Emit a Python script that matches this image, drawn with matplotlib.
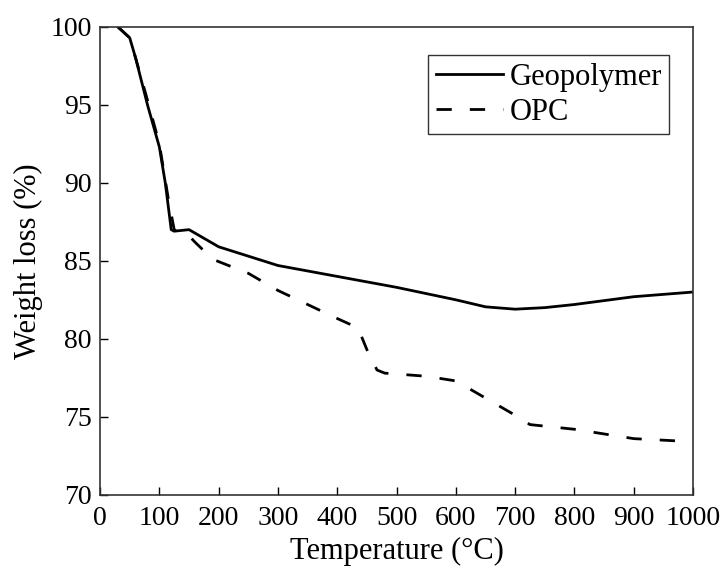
import matplotlib
matplotlib.use("Agg")
import matplotlib.pyplot as plt

plt.rcParams['font.family'] = ['Liberation Serif', 'DejaVu Serif']

geo_T = [30, 50, 60, 80, 100, 110, 120, 125, 150, 200, 300, 400, 500, 600, 650, 700, 750, 800, 900, 1000]
geo_W = [100, 99.3, 98.0, 95.0, 92.3, 90.0, 87.0, 86.9, 87.0, 85.9, 84.7, 84.0, 83.3, 82.5, 82.05, 81.9, 82.0, 82.2, 82.7, 83.0]

opc_T = [30, 50, 60, 80, 100, 115, 125, 140, 150, 160, 190, 250, 300, 350, 400, 435, 450, 467, 480, 550, 600, 650, 700, 725, 800, 900, 1000]
opc_W = [100, 99.3, 98.0, 95.3, 92.5, 89.0, 87.0, 86.7, 86.6, 86.2, 85.1, 84.2, 83.1, 82.2, 81.3, 80.7, 79.3, 78.0, 77.8, 77.6, 77.3, 76.2, 75.1, 74.5, 74.2, 73.6, 73.4]

x_ticks = list(range(0, 1001, 100))
y_ticks = list(range(70, 101, 5))

fig = plt.figure(figsize=(7.25, 5.72), dpi=100)
ax = fig.add_axes([0.138, 0.135, 0.818, 0.818])

ax.plot(geo_T, geo_W, color='black', lw=2.0, label='Geopolymer')
ax.plot(opc_T, opc_W, color='black', lw=2.0, linestyle=(0, (5.5, 6.5)), label='OPC')

ax.set_xlim(0, 1000)
ax.set_ylim(70, 100)
ax.set_xticks(x_ticks)
ax.set_yticks(y_ticks)
ax.tick_params(direction='in', length=6, width=1, labelsize=20)
ax.tick_params(axis='x', pad=8)
ax.tick_params(axis='y', pad=6)
for s in ax.spines.values():
    s.set_linewidth(1.2)
    s.set_color('#333333')

ax.set_xlabel('Temperature (°C)', fontsize=22, labelpad=4)
ax.set_ylabel('Weight loss (%)', fontsize=22, labelpad=5)

leg = ax.legend(loc='upper right', bbox_to_anchor=(0.96, 0.94), fontsize=22, frameon=True,
                fancybox=False, edgecolor='#333333', framealpha=1, handlelength=2.2,
                handletextpad=0.2, borderpad=0.25, labelspacing=0.2, borderaxespad=0)
leg.get_frame().set_linewidth(1.0)

fig.savefig('out.png', dpi=100)
